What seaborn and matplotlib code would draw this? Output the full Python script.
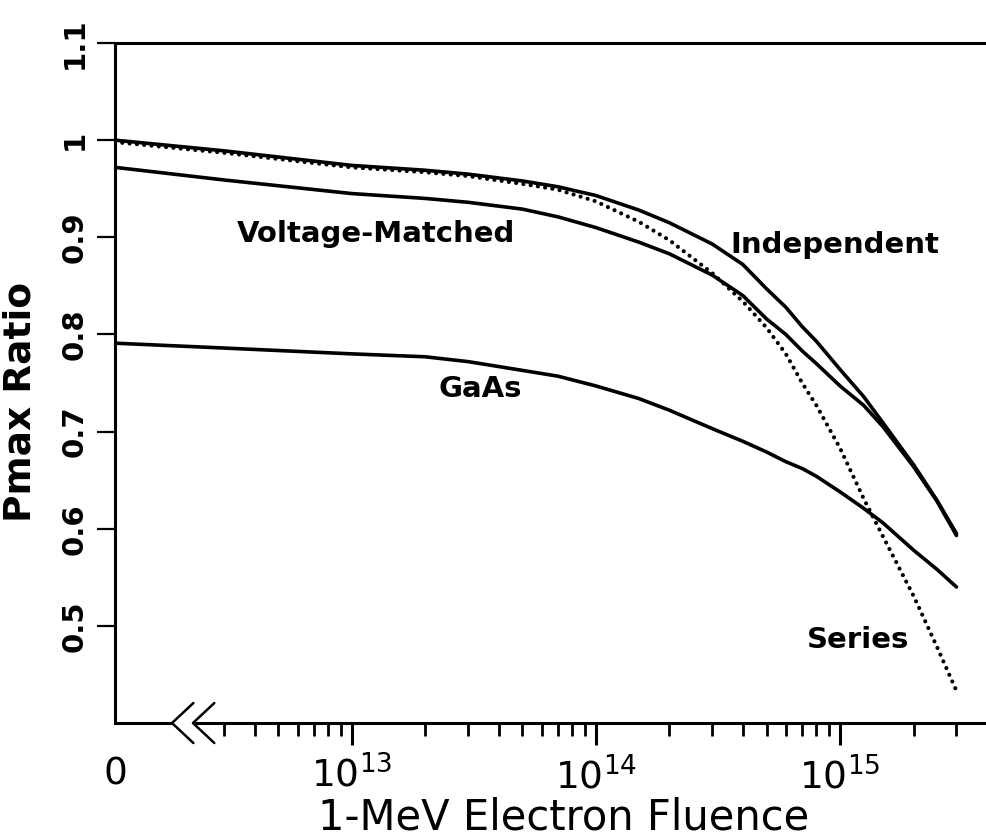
import matplotlib
matplotlib.use("Agg")
import matplotlib.pyplot as plt
import seaborn as sns

# 1-MeV electron fluence (0 = before irradiation)
fluence = [0, 3e12, 1e13, 2e13, 3e13, 5e13, 7e13, 1e14, 1.5e14, 2e14, 3e14, 4e14,
           5e14, 6e14, 7e14, 8e14, 1e15, 1.25e15, 1.5e15, 2e15, 2.5e15, 3e15]

# Pmax ratio
independent = [1.000, 0.989, 0.974, 0.969, 0.965, 0.958, 0.952, 0.943, 0.928, 0.915, 0.893,
               0.872, 0.847, 0.828, 0.808, 0.793, 0.764, 0.736, 0.709, 0.666, 0.629, 0.595]
voltage_matched = [0.972, 0.959, 0.945, 0.940, 0.936, 0.929, 0.921, 0.910, 0.895, 0.883, 0.861,
                   0.840, 0.816, 0.800, 0.783, 0.770, 0.747, 0.727, 0.705, 0.664, 0.628, 0.593]
series = [0.998, 0.987, 0.972, 0.967, 0.963, 0.955, 0.949, 0.937, 0.916, 0.897, 0.863,
          0.834, 0.807, 0.780, 0.750, 0.727, 0.683, 0.631, 0.592, 0.531, 0.478, 0.433]
gaas = [0.791, 0.786, 0.780, 0.777, 0.772, 0.763, 0.757, 0.747, 0.734, 0.722, 0.703,
        0.690, 0.679, 0.669, 0.662, 0.654, 0.638, 0.621, 0.606, 0.578, 0.558, 0.540]

x_major = [0, 1e13, 1e14, 1e15]
x_major_labels = ["0", r"$\mathregular{10^{13}}$", r"$\mathregular{10^{14}}$", r"$\mathregular{10^{15}}$"]
x_minor = [m * 1e12 for m in range(3, 10)] + [m * 1e13 for m in range(2, 10)] + \
          [m * 1e14 for m in range(2, 10)] + [2e15, 3e15]
y_ticks = [0.5, 0.6, 0.7, 0.8, 0.9, 1.0, 1.1]
y_tick_labels = ["0.5", "0.6", "0.7", "0.8", "0.9", "1", "1.1"]

# curve labels: (text, fluence, ratio)
labels = [("Voltage-Matched", 1.26e13, 0.903),
          ("Independent", 9.5e14, 0.892),
          ("GaAs", 3.35e13, 0.744),
          ("Series", 1.19e15, 0.485)]

sns.set_style("ticks")
plt.rcParams['font.family'] = ['DejaVu Sans']

fig = plt.figure(figsize=(9.87, 8.38), dpi=100)
ax = fig.add_axes([0.1165, 0.1372, 0.8835, 0.8115])

for vals in [independent, voltage_matched, gaas]:
    sns.lineplot(x=fluence, y=vals, ax=ax, color="black", lw=2.6)
sns.lineplot(x=fluence, y=series, ax=ax, color="black", lw=3.0,
             linestyle=(0, (0.01, 1.75)), dash_capstyle="round")

ax.set_xscale("symlog", linthresh=3e12, linscale=0.402)
ax.set_xlim(0, 4e15)
ax.set_ylim(0.4, 1.1)

ax.set_xticks(x_major, x_major_labels)
ax.set_xticks(x_minor, minor=True)
ax.xaxis.get_major_ticks()[0].tick1line.set_visible(False)
ax.set_yticks(y_ticks, y_tick_labels, rotation=90, va="center", fontweight="bold")

ax.tick_params(axis="y", direction="out", length=13, width=1.6, pad=6,
               labelsize=21, color="black", labelcolor="black")
ax.tick_params(axis="x", which="major", direction="out", length=16, width=2.2,
               pad=8, labelsize=27, color="black", labelcolor="black")
ax.tick_params(axis="x", which="minor", direction="out", length=9, width=2.0,
               color="black")

for side in ["left", "top"]:
    ax.spines[side].set_linewidth(2.2)
    ax.spines[side].set_color("black")
ax.spines["right"].set_visible(False)
ax.spines["bottom"].set_visible(False)

# broken x axis with the "<<" mark
tr = ax.transAxes
lk = dict(color="black", lw=2.2, transform=tr, clip_on=False, solid_capstyle="butt")
ax.plot([0, 0.0654], [0, 0], **lk)
ax.plot([0.0894, 1.0], [0, 0], **lk)
for x0 in [0.0654, 0.0894]:
    ax.plot([x0 + 0.0245, x0, x0 + 0.0245], [0.0294, 0, -0.0294],
            color="black", lw=1.8, transform=tr, clip_on=False)

for text, fx, fy in labels:
    ax.text(fx, fy, text, ha="center", va="center", fontsize=21,
            fontweight="bold", color="black")

ax.set_xlabel("1-MeV Electron Fluence", fontsize=30, color="black")
ax.xaxis.set_label_coords(0.515, -0.108)
ax.set_ylabel("Pmax Ratio", fontsize=27, fontweight="bold", color="black")
ax.yaxis.set_label_coords(-0.088, 0.472)

fig.savefig("out.png", dpi=100)
